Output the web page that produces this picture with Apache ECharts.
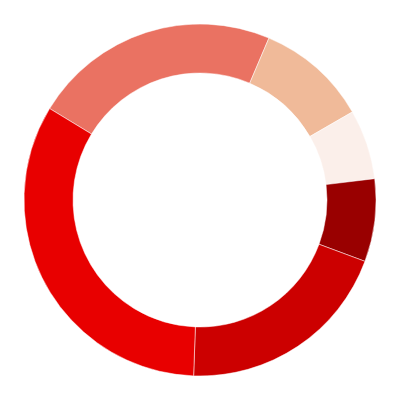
<!DOCTYPE html>
<html>
<head>
<meta charset="utf-8">
<script src="https://cdn.jsdelivr.net/npm/echarts@6/dist/echarts.min.js"></script>
<style>html,body{margin:0;padding:0;background:#fff;}#c{width:400px;height:400px;}</style>
</head>
<body>
<div id="c"></div>
<script>
const categories = ['A', 'B', 'C', 'D', 'E', 'F'];
const values = [22.7, 10.25, 6.4, 7.6, 19.9, 33.1];
const colors = ['#EA7262', '#F0BA99', '#FBEFEA', '#990000', '#CC0000', '#E80000'];

const chart = echarts.init(document.getElementById('c'));
chart.setOption({
  animation: false,
  series: [{
    type: 'pie',
    center: ['50%', '50%'],
    radius: ['63.5%', '88%'],
    startAngle: 148.7,
    clockwise: true,
    label: { show: false },
    labelLine: { show: false },
    itemStyle: { borderColor: '#ffffff', borderWidth: 0.5 },
    emphasis: { disabled: true },
    data: categories.map((c, i) => ({ name: c, value: values[i], itemStyle: { color: colors[i] } }))
  }]
});
</script>
</body>
</html>
